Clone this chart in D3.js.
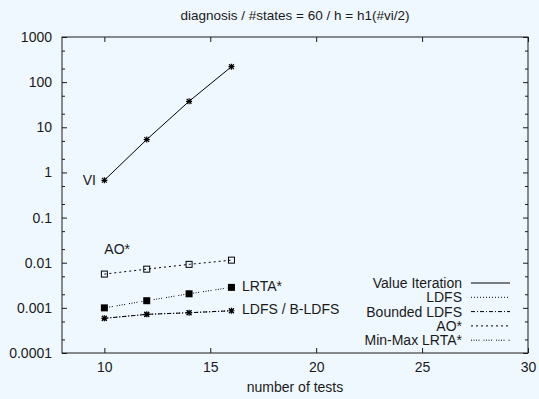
<!DOCTYPE html>
<html>
<head>
<meta charset="utf-8">
<script src="https://cdn.jsdelivr.net/npm/d3@7"></script>
<style>
  html, body { margin: 0; padding: 0; background: #f0f8ff; }
  svg { display: block; font-family: "Liberation Sans", Arial, Helvetica, sans-serif; }
</style>
</head>
<body>
<svg id="chart" width="539" height="399"></svg>
<script>
// Runtime (log scale) per number of tests, diagnosis domain, 60 states
const tests = [10, 12, 14, 16];
const valueIteration = [0.67, 5.35, 37.6, 220];
const ldfs = [0.000586, 0.000718, 0.00078, 0.000863];
const boundedLdfs = [0.000586, 0.000718, 0.00078, 0.000863];
const aoStar = [0.0056, 0.0072, 0.0092, 0.0114];
const minMaxLrta = [0.001, 0.00144, 0.00205, 0.00284];

const xTicks = [10, 15, 20, 25, 30];
const yTicks = [0.0001, 0.001, 0.01, 0.1, 1, 10, 100, 1000];
const yTickLabels = ["0.0001", "0.001", "0.01", "0.1", "1", "10", "100", "1000"];

const titleText = "diagnosis / #states = 60 / h = h1(#vi/2)";
const xLabel = "number of tests";

const series = [
  { name: "Value Iteration", values: valueIteration, dash: null, marker: "star" },
  { name: "LDFS", values: ldfs, dash: "1,2", marker: "x" },
  { name: "Bounded LDFS", values: boundedLdfs, dash: "4,2,1,2", marker: "star" },
  { name: "AO*", values: aoStar, dash: "2,3", marker: "openSquare" },
  { name: "Min-Max LRTA*", values: minMaxLrta, dash: "1,1.5,1,1.5,1,1.5,1,4", marker: "filledSquare" }
];

const inlineLabels = [
  { text: "VI", x: 9.6, y: 0.67, anchor: "end" },
  { text: "AO*", x: 10, y: 0.02, anchor: "start" },
  { text: "LRTA*", x: 16.5, y: 0.003, anchor: "start" },
  { text: "LDFS / B-LDFS", x: 16.5, y: 0.00095, anchor: "start" }
];

const svg = d3.select("#chart");
const margin = { left: 62, right: 11, top: 37, bottom: 46 };
const W = 539, H = 399;
const x = d3.scaleLinear().domain([8, 30]).range([margin.left, W - margin.right]);
const y = d3.scaleLog().domain([0.0001, 1000]).range([H - margin.bottom, margin.top]);

const ink = "#1a1a1a";
const fs = 14;

// minor ticks at 2x and 5x each decade
const minorY = [];
for (let e = -4; e < 3; e++) {
  minorY.push(2 * Math.pow(10, e), 5 * Math.pow(10, e));
}

const g = svg.append("g");

// left axis
const leftAxis = g.append("g").attr("transform", `translate(${x.range()[0]},0)`)
  .call(d3.axisLeft(y).tickValues(yTicks).tickFormat((d, i) => yTickLabels[i]).tickSizeInner(-5).tickSizeOuter(0).tickPadding(10));
leftAxis.select(".domain").remove();
leftAxis.selectAll("text").attr("font-size", fs).attr("fill", ink);
leftAxis.selectAll("line").attr("stroke", ink);
const leftMinor = g.append("g").attr("transform", `translate(${x.range()[0]},0)`)
  .call(d3.axisLeft(y).tickValues(minorY).tickFormat("").tickSizeInner(-3).tickSizeOuter(0));
leftMinor.select(".domain").remove();
leftMinor.selectAll("line").attr("stroke", ink);

// right axis (mirrored ticks)
const rightAxis = g.append("g").attr("transform", `translate(${x.range()[1]},0)`)
  .call(d3.axisRight(y).tickValues(yTicks).tickFormat("").tickSizeInner(-5).tickSizeOuter(0));
rightAxis.select(".domain").remove();
rightAxis.selectAll("line").attr("stroke", ink);
const rightMinor = g.append("g").attr("transform", `translate(${x.range()[1]},0)`)
  .call(d3.axisRight(y).tickValues(minorY).tickFormat("").tickSizeInner(-3).tickSizeOuter(0));
rightMinor.select(".domain").remove();
rightMinor.selectAll("line").attr("stroke", ink);

// bottom axis
const bottomAxis = g.append("g").attr("transform", `translate(0,${y.range()[0]})`)
  .call(d3.axisBottom(x).tickValues(xTicks).tickSizeInner(-5).tickSizeOuter(0).tickPadding(9));
bottomAxis.select(".domain").remove();
bottomAxis.selectAll("text").attr("font-size", fs).attr("fill", ink);
bottomAxis.selectAll("line").attr("stroke", ink);

// top axis (mirrored ticks)
const topAxis = g.append("g").attr("transform", `translate(0,${y.range()[1]})`)
  .call(d3.axisTop(x).tickValues(xTicks).tickFormat("").tickSizeInner(-5).tickSizeOuter(0));
topAxis.select(".domain").remove();
topAxis.selectAll("line").attr("stroke", ink);

// plot border
g.append("rect")
  .attr("x", x.range()[0]).attr("y", y.range()[1])
  .attr("width", x.range()[1] - x.range()[0])
  .attr("height", y.range()[0] - y.range()[1])
  .attr("fill", "none").attr("stroke", ink).attr("stroke-width", 1);

// series lines
const line = d3.line().x(d => x(d[0])).y(d => y(d[1]));
series.forEach(s => {
  const pts = tests.map((t, i) => [t, s.values[i]]);
  g.append("path").datum(pts)
    .attr("d", line)
    .attr("fill", "none")
    .attr("stroke", "#000")
    .attr("stroke-width", 1)
    .attr("stroke-dasharray", s.dash);
});

// markers
function drawMarker(sel, type, cx, cy) {
  const r = 3;
  if (type === "star" || type === "plus") {
    sel.append("path").attr("d", `M${cx - r},${cy}H${cx + r}M${cx},${cy - r}V${cy + r}`)
      .attr("stroke", "#000").attr("stroke-width", 1.2);
  }
  if (type === "star" || type === "x") {
    const q = 2.4;
    sel.append("path").attr("d", `M${cx - q},${cy - q}L${cx + q},${cy + q}M${cx - q},${cy + q}L${cx + q},${cy - q}`)
      .attr("stroke", "#000").attr("stroke-width", 1.2);
  }
  if (type === "openSquare") {
    sel.append("rect").attr("x", cx - 3).attr("y", cy - 3).attr("width", 6).attr("height", 6)
      .attr("fill", "none").attr("stroke", "#000").attr("stroke-width", 1);
  }
  if (type === "filledSquare") {
    sel.append("rect").attr("x", cx - 3.5).attr("y", cy - 3.5).attr("width", 7).attr("height", 7)
      .attr("fill", "#000");
  }
}
series.forEach(s => {
  tests.forEach((t, i) => drawMarker(g, s.marker, x(t), y(s.values[i])));
});

// inline labels
inlineLabels.forEach(l => {
  g.append("text")
    .attr("x", x(l.x)).attr("y", y(l.y))
    .attr("text-anchor", l.anchor)
    .attr("dy", "0.35em")
    .attr("font-size", fs)
    .attr("fill", ink)
    .text(l.text);
});

// legend
const legendRight = 462, sampleX0 = 471, sampleX1 = 510, legendTop = 283, rowH = 14.3;
series.forEach((s, i) => {
  const cy = legendTop + i * rowH;
  g.append("text")
    .attr("x", legendRight).attr("y", cy).attr("dy", "0.35em")
    .attr("text-anchor", "end").attr("font-size", fs).attr("fill", ink)
    .text(s.name);
  g.append("line")
    .attr("x1", sampleX0).attr("x2", sampleX1).attr("y1", cy).attr("y2", cy)
    .attr("stroke", "#000").attr("stroke-width", 1)
    .attr("stroke-dasharray", s.dash);
});

// title and axis label
svg.append("text")
  .attr("x", (x.range()[0] + x.range()[1]) / 2).attr("y", 15).attr("dy", "0.35em")
  .attr("text-anchor", "middle").attr("font-size", 13.5).attr("fill", ink)
  .text(titleText);
svg.append("text")
  .attr("x", (x.range()[0] + x.range()[1]) / 2).attr("y", 387).attr("dy", "0.35em")
  .attr("text-anchor", "middle").attr("font-size", fs).attr("fill", ink)
  .text(xLabel);
</script>
</body>
</html>
